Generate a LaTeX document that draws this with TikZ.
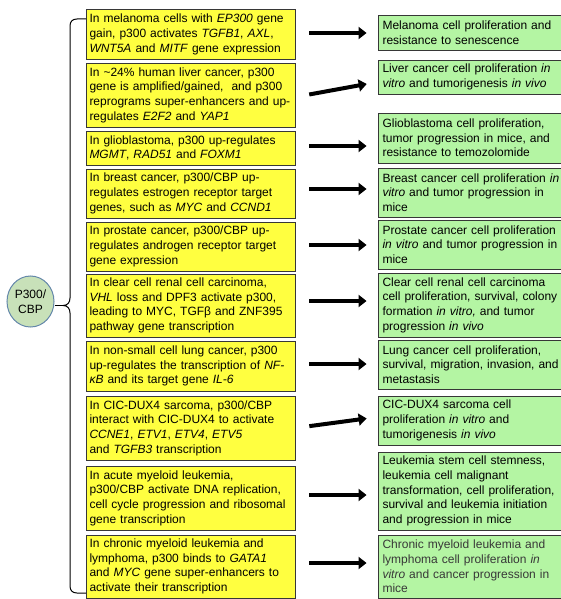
\documentclass[tikz,border=0pt]{standalone}
\usepackage{fontspec}
\setmainfont{Liberation Sans}
\usetikzlibrary{arrows.meta,calc,shapes.geometric}
\definecolor{yfill}{RGB}{255,255,64}
\definecolor{gfill}{RGB}{180,245,163}
\definecolor{bordc}{RGB}{55,55,55}
\definecolor{efill}{RGB}{200,225,185}
\definecolor{edraw}{RGB}{100,135,170}
\newcommand{\Lx}[1]{\mbox{#1}\\}
\newcommand{\Lz}[1]{\mbox{#1}}
\begin{document}
\begin{tikzpicture}[x=1pt,y=-1pt,
  txt/.style={font=\fontsize{12}{14.7}\selectfont, align=left},
  ybox/.style={txt, draw=bordc, line width=0.9pt, fill=yfill, minimum width=209pt,
     text width=202pt, inner xsep=3.5pt, inner ysep=0pt},
  gbox/.style={txt, draw=bordc, line width=0.9pt, fill=gfill, minimum width=183pt,
     text width=174pt, inner xsep=4.5pt, inner ysep=0pt},
  bigarrow/.style={line width=4pt, -{Triangle[length=8pt,width=12pt]},
     shorten <=14pt, shorten >=11pt},
  bracec/.style={line width=1pt, black}]
\useasboundingbox (0,0) rectangle (561,599);
% yellow boxes
\node[ybox, minimum height=49.5pt] (y1) at (190.5,34.25) {\Lx{In melanoma cells with \textit{EP300} gene}\Lx{gain, p300 activates \textit{TGFB1}, \textit{AXL},}\Lz{\textit{WNT5A} and \textit{MITF} gene expression}};
\node[ybox, minimum height=64pt] (y2) at (190.5,95) {\Lx{In \textasciitilde24\% human liver cancer, p300}\Lx{gene is amplified/gained,\ \ and p300}\Lx{reprograms super-enhancers and up-}\Lz{regulates \textit{E2F2} and \textit{YAP1}}};
\node[ybox, minimum height=34pt] (y3) at (190.5,148) {\Lx{In glioblastoma, p300 up-regulates}\Lz{\textit{MGMT}, \textit{RAD51} and \textit{FOXM1}}};
\node[ybox, minimum height=49pt] (y4) at (190.5,193.5) {\Lx{In breast cancer, p300/CBP up-}\Lx{regulates estrogen receptor target}\Lz{genes, such as \textit{MYC} and \textit{CCND1}}};
\node[ybox, minimum height=49pt] (y5) at (190.5,246.5) {\Lx{In prostate cancer, p300/CBP up-}\Lx{regulates androgen receptor target}\Lz{gene expression}};
\node[ybox, minimum height=63pt] (y6) at (190.5,305.5) {\Lx{In clear cell renal cell carcinoma,}\Lx{\textit{VHL} loss and DPF3 activate p300,}\Lx{leading to MYC, TGFβ and ZNF395}\Lz{pathway gene transcription}};
\node[ybox, minimum height=50pt] (y7) at (190.5,366) {\Lx{In non-small cell lung cancer, p300}\Lx{up-regulates the transcription of \textit{NF-}}\Lz{\textit{κB} and its target gene \textit{IL-6}}};
\node[ybox, minimum height=64pt] (y8) at (190.5,428) {\Lx{In CIC-DUX4 sarcoma, p300/CBP}\Lx{interact with CIC-DUX4 to activate}\Lx{\textit{CCNE1}, \textit{ETV1}, \textit{ETV4}, \textit{ETV5}}\Lz{and \textit{TGFB3} transcription}};
\node[ybox, minimum height=64pt] (y9) at (190.5,498) {\Lx{In acute myeloid leukemia,}\Lx{p300/CBP activate DNA replication,}\Lx{cell cycle progression and ribosomal}\Lz{gene transcription}};
\node[ybox, minimum height=63pt] (y10) at (190.5,566.5) {\Lx{In chronic myeloid leukemia and}\Lx{lymphoma, p300 binds to \textit{GATA1}}\Lx{and \textit{MYC} gene super-enhancers to}\Lz{activate their transcription}};
% green boxes
\node[gbox, minimum height=35pt] (g1) at (469.5,32.5) {\Lx{Melanoma cell proliferation and}\Lz{resistance to senescence}};
\node[gbox, minimum height=34pt] (g2) at (469.5,77) {\Lx{Liver cancer cell proliferation \textit{in}}\Lz{\textit{vitro} and tumorigenesis \textit{in vivo}}};
\node[gbox, minimum height=50pt] (g3) at (469.5,138) {\Lx{Glioblastoma cell proliferation,}\Lx{tumor progression in mice, and}\Lz{resistance to temozolomide}};
\node[gbox, minimum height=49pt] (g4) at (469.5,192.5) {\Lx{Breast cancer cell proliferation \textit{in}}\Lx{\textit{vitro} and tumor progression in}\Lz{mice}};
\node[gbox, minimum height=49pt] (g5) at (469.5,244.5) {\Lx{Prostate cancer cell proliferation}\Lx{\textit{in vitro} and tumor progression in}\Lz{mice}};
\node[gbox, minimum height=64pt] (g6) at (469.5,305) {\Lx{Clear cell renal cell carcinoma}\Lx{cell proliferation, survival, colony}\Lx{formation \textit{in vitro,} and tumor}\Lz{progression \textit{in vivo}}};
\node[gbox, minimum height=49pt] (g7) at (469.5,364.5) {\Lx{Lung cancer cell proliferation,}\Lx{survival, migration, invasion, and}\Lz{metastasis}};
\node[gbox, minimum height=49pt] (g8) at (469.5,420.5) {\Lx{CIC-DUX4 sarcoma cell}\Lx{proliferation \textit{in vitro} and}\Lz{tumorigenesis \textit{in vivo}}};
\node[gbox, minimum height=78pt] (g9) at (469.5,491) {\Lx{Leukemia stem cell stemness,}\Lx{leukemia cell malignant}\Lx{transformation, cell proliferation,}\Lx{survival and leukemia initiation}\Lz{and progression in mice}};
\node[gbox, minimum height=63pt, text=black!78] (g10) at (469.5,566.5) {\Lx{Chronic myeloid leukemia and}\Lx{lymphoma cell proliferation \textit{in}}\Lx{\textit{vitro} and cancer progression in}\Lz{mice}};
% P300/CBP
\node[txt, align=center, ellipse, draw=edraw, line width=1pt, fill=efill,
   minimum width=47pt, minimum height=51pt, inner sep=0pt] (e) at (30.5,301.5) {P300/\\CBP};
% brace
\coordinate (tip) at (63,305.5);
\draw[bracec] (86,19) -- (77,19) .. controls (72.5,19) and (70,21.5) .. (70,26)
  -- (70,298) .. controls (70,302.5) and (67.5,305.5) .. (tip)
  .. controls (67.5,305.5) and (70,308.5) .. (70,313)
  -- (70,586) .. controls (70,590.5) and (72.5,593) .. (77,593) -- (86,593);
\draw[bracec] (e.east |- tip) -- (tip);
% arrows
\foreach \i/\ya/\yb in {1/33/33, 2/97/82, 3/146/146, 4/189/189, 5/245/245, 6/301/301,
    7/364/364, 8/428/417, 9/495/495, 10/563/563}{
  \draw[bigarrow] (y\i.east |- 0,\ya) -- (g\i.west |- 0,\yb);
}
\end{tikzpicture}
\end{document}
